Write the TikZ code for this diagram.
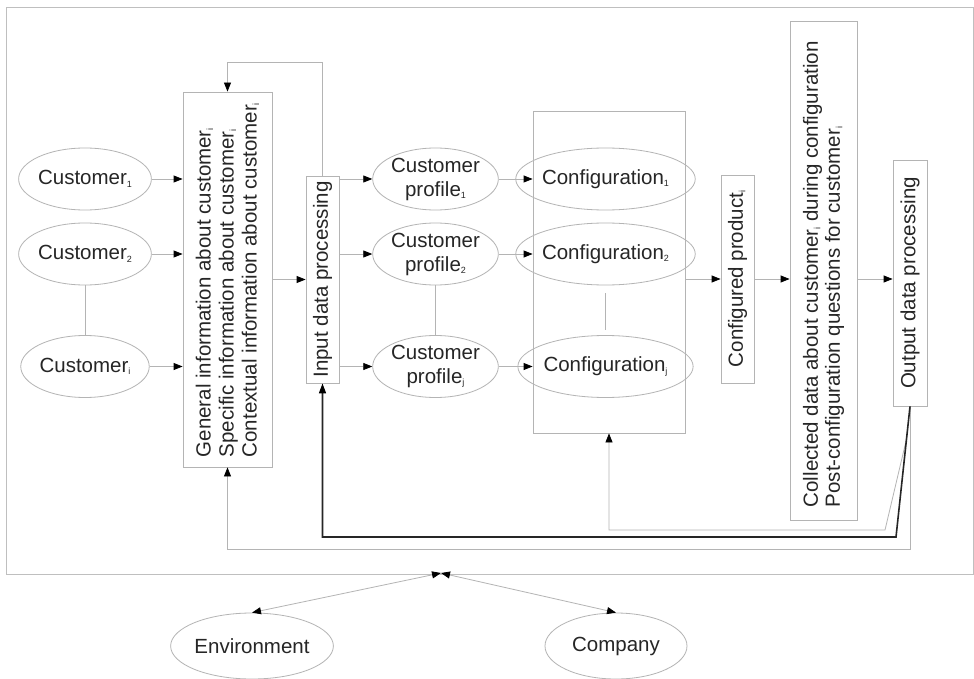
\documentclass[tikz,border=0pt]{standalone}
\usepackage{fontspec}
\setmainfont{Liberation Sans}
\usetikzlibrary{shapes.geometric,arrows.meta,calc}
\newcommand\sbs[1]{\raisebox{-0.12em}{\fontsize{9}{9}\selectfont #1}}
\definecolor{lg}{HTML}{B4B4B4}
\definecolor{tx}{HTML}{262626}
\begin{document}
\begin{tikzpicture}[x=1pt,y=-1pt,
  every node/.style={font=\fontsize{20.5}{24}\selectfont, text=tx},
  ell/.style={ellipse, draw=lg, line width=0.8pt, inner sep=0pt, align=center},
  box/.style={rectangle, draw=lg, line width=0.8pt, inner sep=0pt},
  vtext/.style={rotate=90, inner sep=0pt},
  arr/.style={draw=lg, line width=0.8pt, -{Triangle[length=9pt,width=7pt,color=black]}},
  barr/.style={draw=lg, line width=0.8pt, {Triangle[length=9pt,width=7pt,color=black]}-{Triangle[length=9pt,width=7pt,color=black]}},
  arrk/.style={draw=black!85, line width=1.6pt, -{Triangle[length=10pt,width=7pt,color=black]}},
  ln/.style={draw=lg, line width=0.8pt},
  frame/.style={draw=lg!85, line width=0.9pt}
]
\useasboundingbox (0,0) rectangle (974,679);
\fill[white] (0,0) rectangle (974,679);
\draw[frame] (6,7) rectangle (973,574);

% customers
\node[ell, minimum width=124pt, minimum height=62pt] (c1) at (85,179) {Customer\sbs{1}};
\node[ell, minimum width=124pt, minimum height=62pt] (c2) at (85,254) {Customer\sbs{2}};
\node[ell, minimum width=124pt, minimum height=62pt] (ci) at (85,366.5) {Customer\sbs{i}};

% info box
\node[box, minimum width=89pt, minimum height=375pt] (info) at (227.5,279.5) {};
\node[vtext, anchor=west, align=left, font=\fontsize{20.5}{23}\selectfont] (infot) at ([yshift=10pt]info.south)
  {General information about customer\sbs{i}\\Specific information about customer\sbs{i}\\Contextual information about customer\sbs{i}};

% input processing
\node[box, minimum width=33pt, minimum height=207pt] (input) at (322.5,279.5) {};
\node[vtext] (inputt) at (input.center) {Input data processing};

% profiles
\node[ell, minimum width=125pt, minimum height=62pt] (p1) at (435.5,179) {Customer\\profile\sbs{1}};
\node[ell, minimum width=125pt, minimum height=62pt] (p2) at (435.5,254) {Customer\\profile\sbs{2}};
\node[ell, minimum width=125pt, minimum height=62pt] (pj) at (435.5,366.5) {Customer\\profile\sbs{j}};

% configuration group
\node[box, minimum width=152pt, minimum height=322pt] (cg) at (609,272) {};
\node[ell, minimum width=135pt, minimum height=62pt] (cf1) at (605.5,179) {Configuration\sbs{1}};
\node[ell, minimum width=135pt, minimum height=62pt] (cf2) at (605.5,254) {Configuration\sbs{2}};
\node[ell, minimum width=135pt, minimum height=62pt] (cfj) at (605.5,366.5) {Configuration\sbs{j}};

% configured product
\node[box, minimum width=33pt, minimum height=208pt] (cp) at (737.5,279) {};
\node[vtext] (cpt) at (cp.center) {Configured product\sbs{i}};

% collected data
\node[box, minimum width=67pt, minimum height=499pt] (coll) at (823.5,270.5) {};
\node[vtext, anchor=west, align=left, font=\fontsize{20.5}{22}\selectfont] (collt) at ([yshift=13pt]coll.south)
  {Collected data about customer\sbs{i} during configuration\\Post-configuration questions for customer\sbs{i}};

% output processing
\node[box, minimum width=34pt, minimum height=246pt] (out) at (910,283) {};
\node[vtext] (outt) at (out.center) {Output data processing};

% environment, company
\node[ell, minimum width=140pt, minimum height=66pt] (env) at (252,646) {Environment};
\node[ell, minimum width=142pt, minimum height=66pt] (comp) at (616,646) {Company};

% arrows forward
\draw[arr] (c1) -- (c1 -| info.west);
\draw[arr] (c2) -- (c2 -| info.west);
\draw[arr] (ci) -- (ci -| info.west);
\draw[arr] (info.east |- input.west) -- (input.west);
\draw[arr] (input.east |- p1) -- (p1);
\draw[arr] (input.east |- p2) -- (p2);
\draw[arr] (input.east |- pj) -- (pj);
\draw[arr] (p1) -- (p1 -| cg.west);
\draw[arr] (p2) -- (p2 -| cg.west);
\draw[arr] (pj) -- (pj -| cg.west);
\draw[arr] (cg.east |- cp.west) -- (cp.west);
\draw[arr] (cp.east) -- (cp.east -| coll.west);
\draw[arr] (cp.east -| coll.east) -- (cp.east -| out.west);

% continuation lines
\draw[ln] (c2) -- (ci);
\draw[ln] (p2) -- (pj);
\draw[ln, shorten <=8pt, shorten >=5pt] (cf2) -- (cfj);

% feedback
\coordinate (fbtop) at (227.5,62);
\draw[arr] (input.north) |- (fbtop) -- (info.north);
\coordinate (blk) at (896,537);
\coordinate (g1) at (227.5,549);
\coordinate (g2) at (885,530);
\draw[arr] (out.south) |- (g1) -- (info.south);
\coordinate (gs) at ($(out.south)!0.25!(blk)$);
\draw[arr] (gs) -- (g2) -| (cg.south);
\draw[arrk] (out.south) -- (blk) -| (input.south);

% bottom
\coordinate (mid) at (441,573);
\draw[barr] (env.north) -- (mid);
\draw[barr] (comp.north) -- (mid);
\end{tikzpicture}
\end{document}
